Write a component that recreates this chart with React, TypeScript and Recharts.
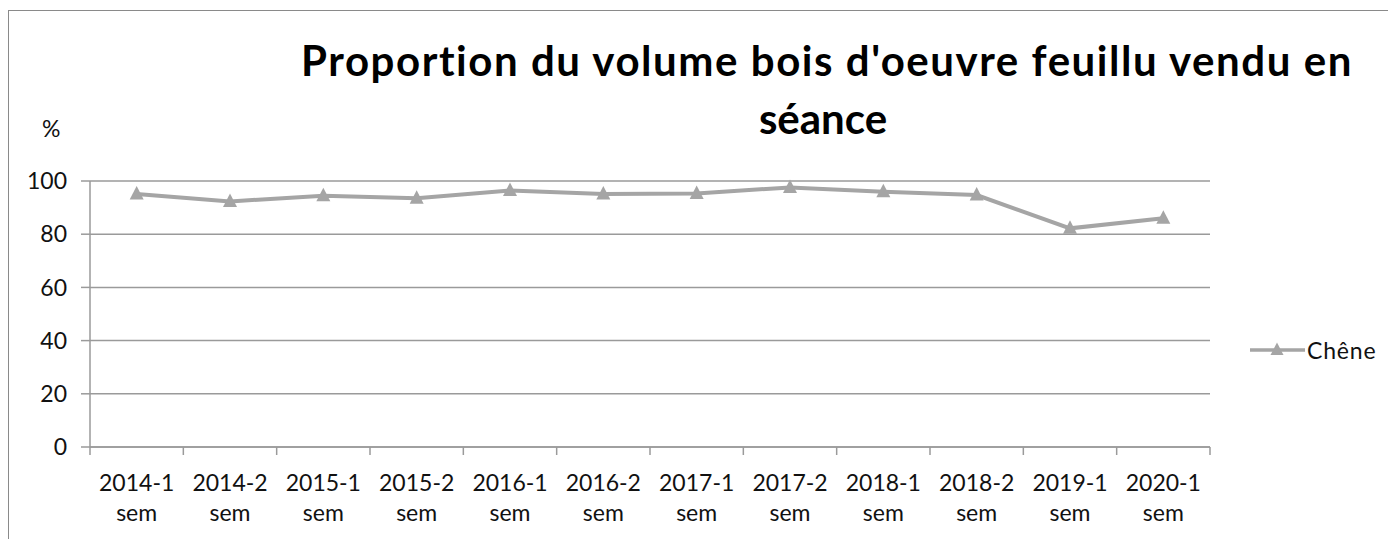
import React from 'react';
import { LineChart, Line, XAxis, YAxis, CartesianGrid, Legend } from 'recharts';

const categories = [
  '2014-1 sem', '2014-2 sem', '2015-1 sem', '2015-2 sem', '2016-1 sem', '2016-2 sem',
  '2017-1 sem', '2017-2 sem', '2018-1 sem', '2018-2 sem', '2019-1 sem', '2020-1 sem',
];
const cheneValues = [95.1, 92.3, 94.5, 93.5, 96.4, 95.1, 95.3, 97.6, 96.0, 94.7, 82.2, 86.0];
const yTicks = [0, 20, 40, 60, 80, 100];
const seriesName = 'Chêne';
const titleLine1 = "Proportion du volume bois d'oeuvre feuillu vendu en";
const titleLine2 = 'séance';
const yUnit = '%';

const data = categories.map((c, i) => ({ pos: i + 0.5, label: c, chene: cheneValues[i] }));
const boundaryTicks = categories.map((_, i) => i).concat([categories.length]);
const centerTicks = categories.map((_, i) => i + 0.5);

const FONT = 'Lato, "Open Sans", sans-serif';
const LINE_COLOR = '#A5A5A5';
const AXIS_COLOR = '#9a9a9a';

const Triangle = (props: any) => {
  const { cx, cy } = props;
  if (cx == null || cy == null) return null;
  return (
    <path
      d={`M${cx},${cy - 8} L${cx + 7},${cy + 5.5} L${cx - 7},${cy + 5.5} Z`}
      fill={LINE_COLOR}
      stroke="none"
    />
  );
};

const CatTick = (props: any) => {
  const { x, y, payload } = props;
  const idx = Math.floor(payload.value);
  const label = categories[idx] || '';
  const parts = label.split(' ');
  return (
    <g>
      <text x={x} y={y + 36} textAnchor="middle" fontFamily={FONT} fontSize={23} fill="#111">
        {parts[0]}
      </text>
      <text x={x} y={y + 66} textAnchor="middle" fontFamily={FONT} fontSize={23} fill="#111">
        {parts[1]}
      </text>
    </g>
  );
};

const EmptyTick = () => <g />;

const LegendContent = () => (
  <div style={{ display: 'flex', alignItems: 'center', fontFamily: FONT, fontSize: 23, color: '#111' }}>
    <svg width={57} height={30} style={{ display: 'block' }}>
      <line x1={0} y1={15} x2={55} y2={15} stroke={LINE_COLOR} strokeWidth={3.5} />
      <path d="M27,7.5 L33.5,20 L20.5,20 Z" fill={LINE_COLOR} />
    </svg>
    <span style={{ lineHeight: '30px', whiteSpace: 'nowrap', letterSpacing: 0.8 }}>{seriesName}</span>
  </div>
);

export default function App() {
  return (
    <div style={{ paddingTop: 2 }}>
      <div
        style={{
          position: 'relative',
          borderLeft: '1px solid #8a8a8a',
          borderTop: '1px solid #8a8a8a',
          width: 1388,
          height: 528,
        }}
      >
        <div
          style={{
            position: 'absolute',
            left: 817 - 700,
            top: 20,
            width: 1400,
            textAlign: 'center',
            fontFamily: FONT,
            fontWeight: 700,
            fontSize: 42,
            lineHeight: '58px',
            color: '#000',
            whiteSpace: 'nowrap',
            fontVariantLigatures: 'none',
            fontFeatureSettings: '"liga" 0, "clig" 0',
            zIndex: 2,
          }}
        >
          <div style={{ letterSpacing: 1.55, marginLeft: 2 }}>{titleLine1}</div>
          <div style={{ marginLeft: -6 }}>{titleLine2}</div>
        </div>
        <div
          style={{
            position: 'absolute',
            left: 33,
            top: 102,
            fontFamily: FONT,
            fontSize: 23,
            lineHeight: '30px',
            color: '#111',
            zIndex: 2,
          }}
        >
          {yUnit}
        </div>
        <LineChart
          width={1388}
          height={528}
          data={data}
          margin={{ top: 170, right: 187, bottom: 0, left: 0 }}
        >
          <CartesianGrid xAxisId="frame" horizontal vertical={false} stroke={AXIS_COLOR} strokeWidth={1.5} />
          <XAxis
            xAxisId="frame"
            type="number"
            dataKey="pos"
            domain={[0, categories.length]}
            ticks={boundaryTicks}
            interval={0}
            tick={EmptyTick}
            tickSize={8}
            height={8}
            stroke={AXIS_COLOR}
            axisLine={{ stroke: AXIS_COLOR, strokeWidth: 1.5 }}
            tickLine={{ stroke: AXIS_COLOR, strokeWidth: 1.5 }}
          />
          <XAxis
            xAxisId="lab"
            type="number"
            dataKey="pos"
            domain={[0, categories.length]}
            ticks={centerTicks}
            interval={0}
            tick={<CatTick />}
            tickSize={0}
            tickMargin={0}
            height={84}
            axisLine={false}
            tickLine={false}
          />
          <YAxis
            type="number"
            domain={[0, 100]}
            ticks={yTicks}
            interval={0}
            width={81}
            tickSize={9}
            tickMargin={14}
            stroke={AXIS_COLOR}
            axisLine={{ stroke: AXIS_COLOR, strokeWidth: 1.5 }}
            tickLine={{ stroke: AXIS_COLOR, strokeWidth: 1.5 }}
            tick={{ fontFamily: FONT, fontSize: 23, fill: '#111' }}
          />
          <Legend
            layout="horizontal"
            align="center"
            verticalAlign="middle"
            content={<LegendContent />}
            wrapperStyle={{ left: 1241, top: 324, width: 160, height: 30 }}
          />
          <Line
            xAxisId="frame"
            type="linear"
            dataKey="chene"
            name={seriesName}
            stroke={LINE_COLOR}
            strokeWidth={4}
            dot={<Triangle />}
            activeDot={false}
            isAnimationActive={false}
          />
        </LineChart>
      </div>
    </div>
  );
}
